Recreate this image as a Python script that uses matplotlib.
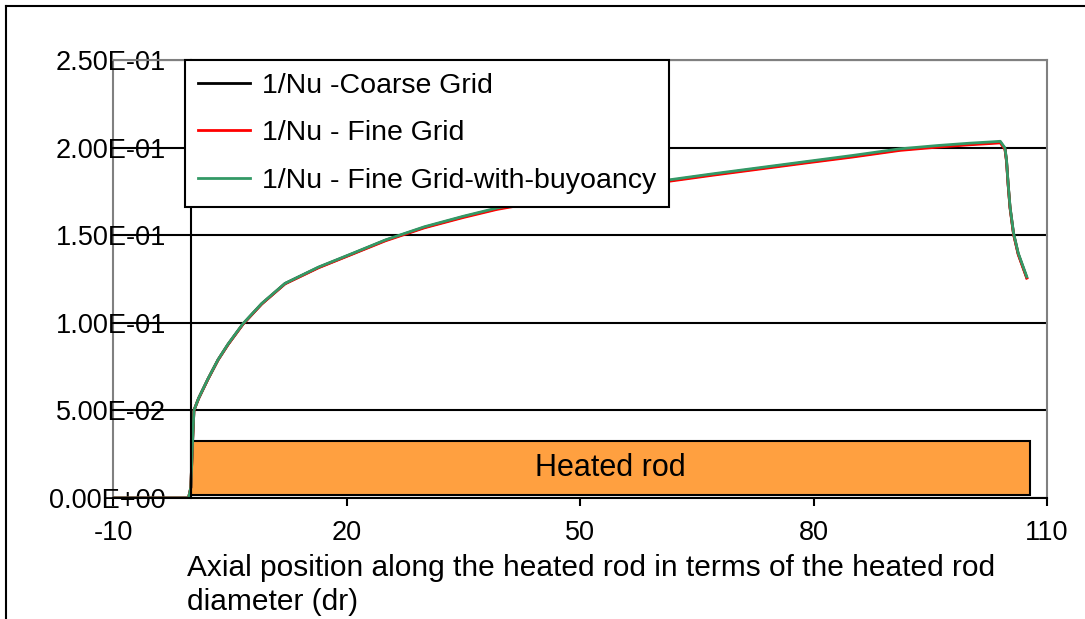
import matplotlib
matplotlib.use("Agg")
import matplotlib.pyplot as plt
from matplotlib.patches import Rectangle
from matplotlib.lines import Line2D

plt.rcParams['font.family'] = ['Liberation Sans', 'DejaVu Sans']

# ---- data ----
x_pos = [-10, -0.3, 0.0, 0.1, 0.25, 0.4, 1.0, 2.2, 3.5, 4.8, 6.7, 9.1, 12.1,
         16.4, 20.7, 25.0, 30.0, 35.0, 39.3, 45.0, 50.0, 55.0, 61.3, 67.0, 73.0,
         79.0, 85.0, 91.1, 96.0, 100.0, 103.0, 104.0, 104.6, 104.8, 105.0, 105.25,
         105.7, 106.3, 107.4]
nu_fine_buoy = [0, 0, 0.006, 0.018, 0.035, 0.050, 0.057, 0.068, 0.079,
                0.088, 0.0995, 0.111, 0.1225, 0.1318, 0.1395, 0.1473, 0.1548,
                0.1608, 0.1655, 0.1700, 0.1740, 0.1775, 0.1815, 0.1850, 0.1885,
                0.1920, 0.1955, 0.1993, 0.2012, 0.2025, 0.2033, 0.2036, 0.1998,
                0.1929, 0.1798, 0.1663, 0.1513, 0.1398, 0.1263]
nu_fine = [0, 0, 0.006, 0.018, 0.035, 0.050, 0.0568, 0.0678, 0.0788,
           0.0877, 0.0992, 0.1107, 0.1222, 0.1314, 0.1391, 0.1468, 0.1542,
           0.1601, 0.1647, 0.1692, 0.1732, 0.1767, 0.1807, 0.1842, 0.1877,
           0.1912, 0.1946, 0.1984, 0.2003, 0.2016, 0.2024, 0.2027, 0.1990,
           0.1920, 0.1790, 0.1655, 0.1505, 0.1390, 0.1255]
nu_coarse = [0, 0, 0.006, 0.018, 0.035, 0.050, 0.0569, 0.0679, 0.0789,
             0.0878, 0.0993, 0.1108, 0.1224, 0.1316, 0.1393, 0.1471, 0.1545,
             0.1605, 0.1651, 0.1696, 0.1736, 0.1771, 0.1811, 0.1846, 0.1881,
             0.1916, 0.1950, 0.1988, 0.2007, 0.2020, 0.2028, 0.2031, 0.1994,
             0.1925, 0.1794, 0.1659, 0.1509, 0.1394, 0.1258]

series_labels = ['1/Nu -Coarse Grid', '1/Nu - Fine Grid', '1/Nu - Fine Grid-with-buyoancy']
series_colors = ['black', '#FF0000', '#339966']

x_ticks = [-10, 20, 50, 80, 110]
y_ticks = [0.0, 0.05, 0.10, 0.15, 0.20, 0.25]
y_tick_labels = ['0.00E+00', '5.00E-02', '1.00E-01', '1.50E-01', '2.00E-01', '2.50E-01']

rod_start, rod_end = 0.0, 107.8
rod_bottom, rod_top = 0.0017, 0.0325
rod_label = 'Heated rod'

x_label = 'Axial position along the heated rod in terms of the heated rod\ndiameter (dr)'

# ---- figure ----
W, H = 1085, 619
fig = plt.figure(figsize=(W / 100, H / 100), dpi=100)
ax = fig.add_axes([113 / W, (H - 498) / H, (1047 - 113) / W, 438 / H])
ax.set_xlim(-10, 110)
ax.set_ylim(0, 0.25)

fs_tick = 19.5
fs_leg = 20.5
fs_lab = 21.5

# heated rod box
ax.add_patch(Rectangle((rod_start, rod_bottom), rod_end - rod_start, rod_top - rod_bottom,
                       facecolor='#FFA040', edgecolor='black', lw=1.5, zorder=1))
ax.text((rod_start + rod_end) / 2, (rod_bottom + rod_top) / 2, rod_label,
        ha='center', va='center', fontsize=22, zorder=3)

# series
for y, lab, col in zip([nu_coarse, nu_fine, nu_fine_buoy], series_labels, series_colors):
    ax.plot(x_pos, y, color=col, lw=2.0, label=lab, zorder=2)

# grid and axes
ax.set_yticks(y_ticks)
ax.set_yticklabels(y_tick_labels)
ax.set_xticks(x_ticks)
ax.set_xticklabels([str(t) for t in x_ticks])
ax.yaxis.grid(True, color='black', lw=1.5)
ax.tick_params(axis='y', length=0, pad=18, labelsize=fs_tick)
ax.tick_params(axis='x', length=6, width=1.5, pad=10, labelsize=fs_tick, direction='out')

ax.spines['left'].set_position(('data', 0))
ax.spines['left'].set_color('black')
ax.spines['left'].set_linewidth(1.5)
ax.spines['bottom'].set_color('black')
ax.spines['bottom'].set_linewidth(1.5)
for s in ['top', 'right']:
    ax.spines[s].set_color('#808080')
    ax.spines[s].set_linewidth(1.5)
ax.axvline(-10, color='#808080', lw=1.5, clip_on=False, zorder=1.4)

leg = ax.legend(loc='upper left', bbox_to_anchor=(185 / W, 1 - 60 / H),
                bbox_transform=fig.transFigure, borderaxespad=0, fontsize=fs_leg,
                frameon=True, fancybox=False, edgecolor='black', framealpha=1,
                handlelength=1.85, handletextpad=0.4, labelspacing=0.76,
                borderpad=0.45)
leg.get_frame().set_linewidth(1.5)

# x label
fig.text(187 / W, 1 - 585 / H, x_label, ha='left', va='center', fontsize=fs_lab,
         linespacing=1.3)

# outer chart frame (left and top edges visible)
fig.add_artist(Line2D([6 / W, 6 / W], [0, 1 - 6 / H], color='black', lw=1.5,
                      transform=fig.transFigure))
fig.add_artist(Line2D([6 / W, 1], [1 - 6 / H, 1 - 6 / H], color='black', lw=1.5,
                      transform=fig.transFigure))

fig.savefig('out.png', dpi=100)
